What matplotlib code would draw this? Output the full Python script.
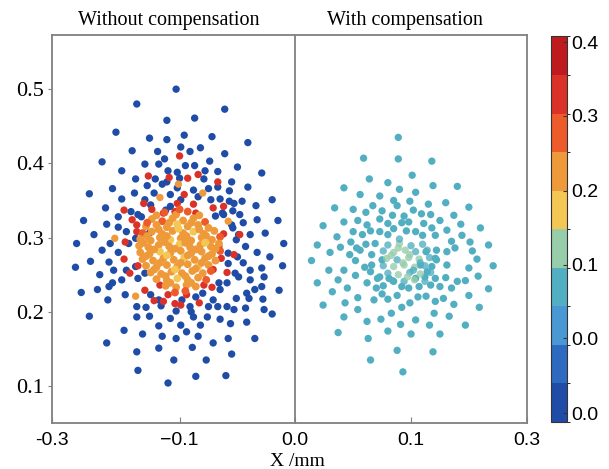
import numpy as np
import matplotlib
matplotlib.use("Agg")
from matplotlib import pyplot as plt
from matplotlib.colors import ListedColormap, BoundaryNorm
from matplotlib.cm import ScalarMappable

# spot positions (mm)
# left panel: outer rays (dark blue)
blue_x = [-0.103, -0.137, -0.061, -0.111, -0.087, -0.155, -0.126, -0.111, -0.096, -0.072,
          -0.041, -0.141, -0.119, -0.099, -0.091, -0.082, -0.061, -0.113, -0.167, -0.150,
          -0.130, -0.118, -0.110, -0.074, -0.095, -0.050, -0.087, -0.078, -0.067, -0.029,
          -0.102, -0.138, -0.121, -0.100, -0.079, -0.055, -0.041, -0.111, -0.158, -0.128,
          -0.139, -0.122, -0.102, -0.088, -0.075, -0.067, -0.057, -0.178, -0.150, -0.130,
          -0.108, -0.084, -0.065, -0.073, -0.057, -0.046, -0.020, -0.164, -0.142, -0.136,
          -0.112, -0.034, -0.054, -0.048, -0.069, -0.062, -0.183, -0.153, -0.015, -0.045,
          -0.033, -0.163, -0.153, -0.146, -0.054, -0.039, -0.026, -0.174, -0.126, -0.189,
          -0.160, -0.167, -0.153, -0.177, -0.161, -0.190, -0.169, -0.171, -0.185, -0.158,
          -0.147, -0.162, -0.178, -0.163, -0.148, -0.137, -0.136, -0.132, -0.137, -0.137,
          -0.129, -0.136, -0.130, -0.126, -0.118, -0.118, -0.115, -0.105, -0.110, -0.103,
          -0.108, -0.103, -0.094, -0.099, -0.089, -0.086, -0.077, -0.084, -0.088, -0.082,
          -0.071, -0.058, -0.055, -0.060, -0.065, -0.056, -0.042, -0.035, -0.043, -0.053,
          -0.051, -0.028, -0.020, -0.014, -0.027, -0.035, -0.042, -0.027, -0.039, -0.029,
          -0.011, -0.022, -0.010, -0.043, -0.052, -0.045, -0.051, -0.058, -0.059, -0.066,
          -0.067, -0.071, -0.080, -0.091, -0.075, -0.076, -0.053, -0.115, -0.150, -0.157,
          -0.146, -0.161, -0.116, -0.090, -0.059, -0.040, -0.029, -0.039, -0.049, -0.033,
          -0.050, -0.049, -0.055, -0.063, -0.099, -0.108, -0.125, -0.133, -0.138, -0.144,
          -0.138, -0.125, -0.118, -0.098, -0.086, -0.065, -0.058]
blue_y = [0.500, 0.480, 0.473, 0.458, 0.461, 0.442, 0.434, 0.432, 0.438, 0.436,
          0.428, 0.417, 0.416, 0.422, 0.416, 0.421, 0.413, 0.406, 0.402, 0.390,
          0.399, 0.399, 0.390, 0.403, 0.397, 0.395, 0.397, 0.390, 0.389, 0.387,
          0.388, 0.379, 0.379, 0.380, 0.379, 0.375, 0.368, 0.375, 0.366, 0.370,
          0.360, 0.360, 0.367, 0.364, 0.366, 0.368, 0.363, 0.359, 0.352, 0.351,
          0.358, 0.355, 0.352, 0.351, 0.349, 0.349, 0.351, 0.340, 0.335, 0.331,
          0.337, 0.343, 0.336, 0.331, 0.329, 0.331, 0.323, 0.328, 0.323, 0.320,
          0.324, 0.318, 0.314, 0.308, 0.313, 0.304, 0.306, 0.304, 0.306, 0.292,
          0.292, 0.283, 0.280, 0.268, 0.267, 0.260, 0.250, 0.230, 0.226, 0.239,
          0.223, 0.216, 0.194, 0.158, 0.175, 0.146, 0.121, 0.170, 0.193, 0.207,
          0.206, 0.245, 0.252, 0.194, 0.181, 0.151, 0.167, 0.135, 0.104, 0.164,
          0.191, 0.201, 0.173, 0.182, 0.152, 0.113, 0.135, 0.167, 0.193, 0.182,
          0.158, 0.164, 0.143, 0.114, 0.190, 0.184, 0.186, 0.164, 0.205, 0.203,
          0.218, 0.217, 0.197, 0.229, 0.203, 0.230, 0.225, 0.247, 0.256, 0.259,
          0.262, 0.274, 0.292, 0.288, 0.252, 0.266, 0.297, 0.265, 0.239, 0.239,
          0.207, 0.216, 0.225, 0.207, 0.207, 0.193, 0.346, 0.372, 0.243, 0.256,
          0.256, 0.234, 0.208, 0.200, 0.207, 0.218, 0.234, 0.243, 0.247, 0.280,
          0.274, 0.304, 0.317, 0.333, 0.351, 0.342, 0.344, 0.328, 0.299, 0.292,
          0.261, 0.223, 0.216, 0.216, 0.220, 0.230, 0.279]

# left panel: ring of red spots round the core
red_x = [-0.100, -0.127, -0.109, -0.084, -0.093, -0.067, -0.096, -0.102, -0.088, -0.071,
         -0.062, -0.062, -0.048, -0.124, -0.148, -0.141, -0.137, -0.147, -0.148, -0.143,
         -0.136, -0.130, -0.122, -0.117, -0.114, -0.110, -0.104, -0.099, -0.094, -0.083,
         -0.072, -0.071, -0.059, -0.053, -0.131, -0.104, -0.114, -0.086, -0.137, -0.066,
         -0.064, -0.079]
red_y = [0.410, 0.383, 0.381, 0.385, 0.380, 0.375, 0.358, 0.346, 0.345, 0.340,
         0.342, 0.305, 0.304, 0.338, 0.337, 0.324, 0.317, 0.294, 0.271, 0.252,
         0.262, 0.229, 0.215, 0.236, 0.214, 0.223, 0.211, 0.209, 0.223, 0.212,
         0.233, 0.257, 0.253, 0.277, 0.346, 0.335, 0.333, 0.333, 0.308, 0.288,
         0.272, 0.236]

# left panel: stray orange spots
orange_x = [-0.156, -0.117, -0.080, -0.058, -0.138, -0.101]
orange_y = [0.299, 0.354, 0.360, 0.322, 0.221, 0.372]

# left panel: dense core
core_x = [-0.113, -0.103, -0.093, -0.083,
          -0.124, -0.115, -0.106, -0.097, -0.088, -0.078,
          -0.129, -0.120, -0.111, -0.102, -0.093, -0.084, -0.075,
          -0.132, -0.124, -0.115, -0.106, -0.097, -0.088, -0.079, -0.070,
          -0.134, -0.125, -0.117, -0.108, -0.099, -0.090, -0.081, -0.072, -0.065,
          -0.135, -0.127, -0.118, -0.109, -0.100, -0.091, -0.082, -0.073, -0.066,
          -0.134, -0.126, -0.117, -0.108, -0.099, -0.090, -0.081, -0.072, -0.065,
          -0.132, -0.123, -0.114, -0.105, -0.096, -0.087, -0.078, -0.069,
          -0.129, -0.120, -0.111, -0.102, -0.093, -0.084, -0.075,
          -0.125, -0.116, -0.107, -0.098, -0.089, -0.080, -0.073,
          -0.120, -0.111, -0.102, -0.093, -0.084, -0.077,
          -0.112, -0.103, -0.094, -0.086,
          -0.104, -0.095,
          -0.120, -0.100, -0.128, -0.109, -0.090, -0.118, -0.101, -0.083, -0.128, -0.111,
          -0.094, -0.077, -0.131, -0.113, -0.095, -0.078, -0.122, -0.104, -0.086, -0.069,
          -0.129, -0.111, -0.093, -0.075, -0.117, -0.099, -0.081, -0.122, -0.104, -0.086,
          -0.112, -0.095, -0.108, -0.090]
core_y = [0.334, 0.331, 0.335, 0.330,
          0.325, 0.322, 0.326, 0.323, 0.326, 0.321,
          0.315, 0.317, 0.314, 0.318, 0.315, 0.317, 0.313,
          0.306, 0.308, 0.305, 0.309, 0.306, 0.308, 0.305, 0.309,
          0.298, 0.296, 0.300, 0.297, 0.299, 0.296, 0.300, 0.297, 0.301,
          0.289, 0.287, 0.290, 0.288, 0.291, 0.287, 0.290, 0.288, 0.292,
          0.280, 0.278, 0.281, 0.279, 0.282, 0.279, 0.281, 0.278, 0.282,
          0.271, 0.269, 0.272, 0.270, 0.273, 0.270, 0.272, 0.269,
          0.262, 0.260, 0.263, 0.261, 0.264, 0.261, 0.263,
          0.253, 0.251, 0.254, 0.252, 0.255, 0.252, 0.255,
          0.244, 0.242, 0.245, 0.243, 0.246, 0.243,
          0.235, 0.233, 0.236, 0.234,
          0.226, 0.228,
          0.330, 0.338, 0.320, 0.320, 0.320, 0.311, 0.312, 0.311, 0.302, 0.302,
          0.302, 0.302, 0.293, 0.294, 0.293, 0.293, 0.284, 0.285, 0.284, 0.285,
          0.275, 0.276, 0.276, 0.275, 0.266, 0.266, 0.266, 0.257, 0.257, 0.258,
          0.248, 0.248, 0.239, 0.239]
core_v = [0.30, 0.26, 0.30, 0.26,
          0.26, 0.30, 0.26, 0.26, 0.26, 0.30,
          0.26, 0.26, 0.26, 0.22, 0.26, 0.26, 0.26,
          0.30, 0.26, 0.26, 0.26, 0.26, 0.22, 0.26, 0.26,
          0.26, 0.26, 0.26, 0.22, 0.26, 0.26, 0.26, 0.26, 0.30,
          0.26, 0.26, 0.26, 0.26, 0.22, 0.26, 0.26, 0.26, 0.26,
          0.26, 0.26, 0.22, 0.26, 0.26, 0.26, 0.26, 0.26, 0.30,
          0.26, 0.26, 0.26, 0.26, 0.22, 0.26, 0.26, 0.26,
          0.26, 0.26, 0.26, 0.26, 0.26, 0.22, 0.26,
          0.26, 0.26, 0.26, 0.26, 0.26, 0.26, 0.30,
          0.26, 0.26, 0.22, 0.26, 0.26, 0.30,
          0.26, 0.26, 0.26, 0.26,
          0.30, 0.30,
          0.26, 0.30, 0.30, 0.26, 0.26, 0.26, 0.22, 0.26, 0.26, 0.26,
          0.26, 0.26, 0.26, 0.26, 0.26, 0.22, 0.26, 0.26, 0.26, 0.26,
          0.26, 0.22, 0.26, 0.26, 0.26, 0.26, 0.26, 0.26, 0.22, 0.26,
          0.26, 0.26, 0.26, 0.26]

# right panel: compensated spots (teal)
right_x = [0.089, 0.059, 0.089, 0.118, 0.064, 0.101, 0.042, 0.080, 0.090, 0.119,
           0.140, 0.056, 0.073, 0.104, 0.034, 0.050, 0.067, 0.085, 0.088, 0.099,
           0.115, 0.130, 0.150, 0.024, 0.042, 0.054, 0.061, 0.075, 0.073, 0.084,
           0.094, 0.102, 0.109, 0.117, 0.125, 0.137, 0.143, 0.160, 0.036, 0.050,
           0.062, 0.065, 0.080, 0.092, 0.098, 0.111, 0.118, 0.131, 0.144, 0.151,
           0.167, 0.019, 0.039, 0.048, 0.058, 0.073, 0.080, 0.085, 0.096, 0.104,
           0.110, 0.121, 0.135, 0.030, 0.053, 0.061, 0.069, 0.014, 0.047, 0.052,
           0.029, 0.042, 0.019, 0.037, 0.052, 0.060, 0.062, 0.032, 0.045, 0.054,
           0.070, 0.024, 0.043, 0.054, 0.068, 0.075, 0.080, 0.088, 0.042, 0.062,
           0.074, 0.083, 0.092, 0.099, 0.106, 0.113, 0.121, 0.128, 0.137, 0.150,
           0.159, 0.037, 0.063, 0.080, 0.091, 0.100, 0.104, 0.116, 0.120, 0.125,
           0.133, 0.147, 0.088, 0.119, 0.065, 0.093, 0.135, 0.140, 0.147, 0.158,
           0.167, 0.171, 0.157, 0.153, 0.138, 0.150, 0.130, 0.121, 0.117, 0.125,
           0.107, 0.098, 0.092, 0.085, 0.076, 0.071, 0.065, 0.131, 0.122, 0.114,
           0.131, 0.122, 0.056, 0.066, 0.075, 0.073, 0.081, 0.104, 0.112, 0.108,
           0.118, 0.121, 0.113, 0.066]
right_y = [0.435, 0.407, 0.406, 0.403, 0.379, 0.384, 0.367, 0.374, 0.365, 0.370,
           0.369, 0.358, 0.356, 0.361, 0.340, 0.338, 0.343, 0.350, 0.343, 0.349,
           0.345, 0.347, 0.341, 0.316, 0.321, 0.323, 0.334, 0.336, 0.325, 0.330,
           0.329, 0.337, 0.332, 0.331, 0.323, 0.330, 0.318, 0.313, 0.301, 0.308,
           0.317, 0.309, 0.319, 0.320, 0.321, 0.319, 0.313, 0.310, 0.303, 0.294,
           0.290, 0.290, 0.287, 0.294, 0.304, 0.308, 0.304, 0.312, 0.309, 0.308,
           0.303, 0.303, 0.295, 0.280, 0.286, 0.291, 0.292, 0.269, 0.277, 0.269,
           0.256, 0.256, 0.239, 0.243, 0.249, 0.260, 0.239, 0.227, 0.232, 0.219,
           0.232, 0.209, 0.212, 0.203, 0.216, 0.224, 0.217, 0.222, 0.193, 0.187,
           0.190, 0.198, 0.206, 0.212, 0.220, 0.221, 0.214, 0.218, 0.210, 0.222,
           0.206, 0.172, 0.164, 0.174, 0.183, 0.170, 0.189, 0.182, 0.198, 0.170,
           0.194, 0.182, 0.148, 0.146, 0.135, 0.119, 0.232, 0.241, 0.242, 0.248,
           0.231, 0.262, 0.271, 0.282, 0.286, 0.259, 0.246, 0.245, 0.236, 0.234,
           0.234, 0.232, 0.234, 0.241, 0.235, 0.245, 0.254, 0.263, 0.270, 0.254,
           0.281, 0.283, 0.283, 0.277, 0.270, 0.247, 0.245, 0.245, 0.247, 0.263,
           0.261, 0.272, 0.281, 0.263]

# right panel: greenish core
rcore_x = [0.080, 0.090, 0.100, 0.110, 0.076, 0.085, 0.095, 0.104, 0.114,
           0.079, 0.088, 0.098, 0.107, 0.116, 0.076, 0.085, 0.094, 0.103, 0.112,
           0.080, 0.089, 0.099, 0.108, 0.117, 0.084, 0.094, 0.103, 0.112,
           0.090, 0.097, 0.083, 0.093, 0.102, 0.089, 0.099, 0.108]
rcore_y = [0.290, 0.292, 0.289, 0.291, 0.282, 0.280, 0.283, 0.281, 0.283,
           0.272, 0.270, 0.273, 0.271, 0.273, 0.262, 0.261, 0.263, 0.260, 0.262,
           0.252, 0.250, 0.253, 0.251, 0.253, 0.242, 0.241, 0.243, 0.241,
           0.298, 0.247, 0.276, 0.266, 0.256, 0.286, 0.277, 0.266]
rcore_v = [0.14, 0.18, 0.14, 0.14, 0.14, 0.18, 0.18, 0.14, 0.14,
           0.18, 0.14, 0.18, 0.18, 0.14, 0.14, 0.18, 0.18, 0.18, 0.14,
           0.14, 0.18, 0.14, 0.18, 0.14, 0.14, 0.14, 0.18, 0.14,
           0.14, 0.18, 0.18, 0.18, 0.14, 0.18, 0.18, 0.14]

blue_val = 0.02
red_val = 0.34
orange_val = 0.26
teal_val = 0.14

band_colors = ["#1F4CA6", "#2E6BC0", "#4A98D3", "#52AFC2", "#98CDAA",
               "#F4C654", "#EE9A3A", "#EE5B2A", "#DA3228", "#BF1B1F"]
cbar_ticks = [0.009, 0.087, 0.163, 0.240, 0.318, 0.394]
cbar_labels = ["0.0", "0.0", "0.1", "0.2", "0.3", "0.4"]
x_ticks = [-0.21, -0.1, 0.0, 0.1, 0.2]
x_labels = ["-0.3", "\u22120.1", "0.0", "0.1", "0.3"]
y_ticks = [0.1, 0.2, 0.3, 0.4, 0.5]

cmap = ListedColormap(band_colors)
norm = BoundaryNorm(np.linspace(0, 0.4, 11), cmap.N)

fig = plt.figure(figsize=(6.09, 4.69), dpi=100)
ax = fig.add_axes([0.0859, 0.0987, 0.7790, 0.8267])

dot = 28
ax.scatter(blue_x, blue_y, c=np.full(len(blue_x), blue_val), cmap=cmap, norm=norm, s=dot, lw=0)
ax.scatter(red_x, red_y, c=np.full(len(red_x), red_val), cmap=cmap, norm=norm, s=dot, lw=0)
ax.scatter(orange_x, orange_y, c=np.full(len(orange_x), orange_val), cmap=cmap, norm=norm, s=dot, lw=0)
ax.scatter(core_x, core_y, c=core_v, cmap=cmap, norm=norm, s=32, lw=0)
ax.scatter(right_x, right_y, c=np.full(len(right_x), teal_val), cmap=cmap, norm=norm, s=dot, lw=0)
ax.scatter(rcore_x, rcore_y, c=rcore_v, cmap=cmap, norm=norm, s=dot, lw=0, alpha=0.8)

frame = "#808080"
ax.axvline(0, color=frame, lw=1.3)
for sp in ax.spines.values():
    sp.set_color(frame)
    sp.set_linewidth(1.3)

ax.set_xlim(-0.21, 0.2)
ax.set_ylim(0.0505, 0.573)
ax.set_xticks(x_ticks, labels=x_labels, fontfamily="Liberation Sans", fontsize=14)
ax.set_yticks(y_ticks, labels=[f"{v:.1f}" for v in y_ticks], fontfamily="Liberation Serif", fontsize=16)
ax.tick_params(axis="x", direction="in", length=4, color=frame, pad=7)
ax.tick_params(axis="y", direction="out", length=3, color=frame, pad=3)

fig.text(0.2775, 0.957, "Without compensation", ha="center", va="center",
         fontfamily="Liberation Serif", fontsize=14.5)
fig.text(0.665, 0.957, "With compensation", ha="center", va="center",
         fontfamily="Liberation Serif", fontsize=14.5)
fig.text(0.488, 0.017, "X /mm", ha="center", va="center",
         fontfamily="Liberation Serif", fontsize=14)

cax = fig.add_axes([0.9048, 0.1002, 0.0263, 0.822])
sm = ScalarMappable(norm=norm, cmap=cmap)
cb = fig.colorbar(sm, cax=cax)
cb.set_ticks(cbar_ticks, labels=cbar_labels, fontfamily="Liberation Sans", fontsize=14)
cb.ax.tick_params(direction="in", length=3, width=0.8, color="#333333", pad=3)
cb.outline.set_linewidth(0.8)
cb.outline.set_edgecolor("#333333")

fig.savefig("out.png", dpi=100)
